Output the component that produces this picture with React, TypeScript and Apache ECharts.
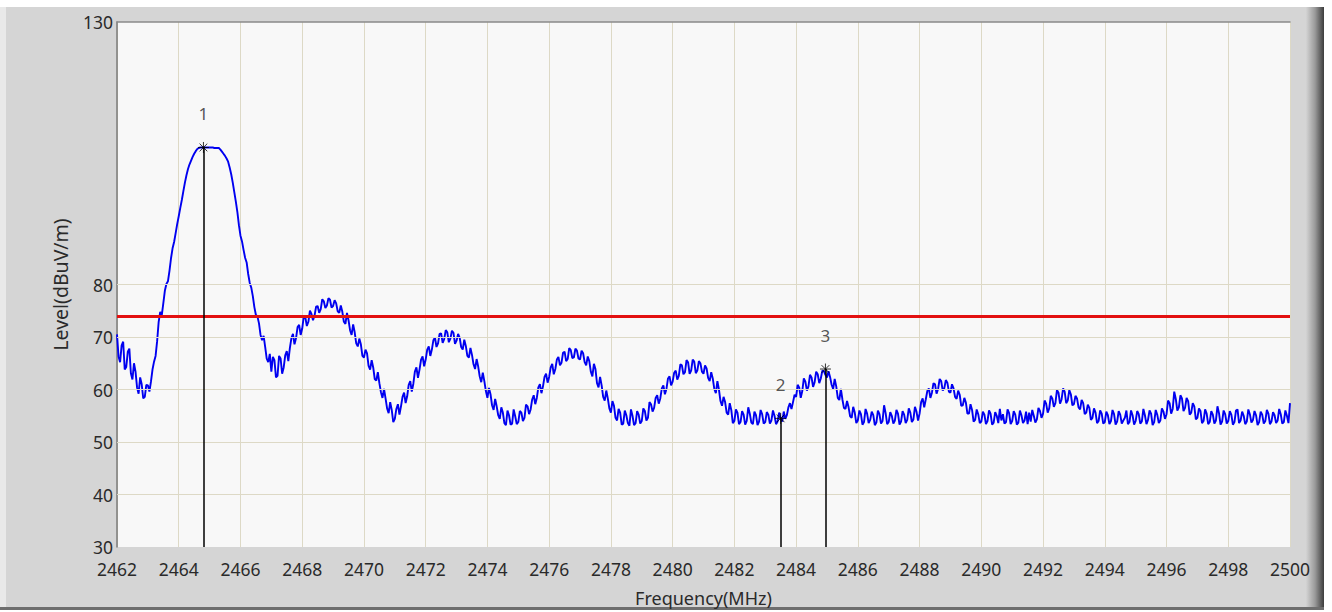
import React, { useEffect, useRef } from "react";
import * as echarts from "echarts";

// Sampling grid of the analyser trace (MHz)
const freqStart = 2462;
const freqStep = 0.1;

// Trace level (dBuV/m) at 2462.0, 2462.1, ... 2500.0
const level = [
  70.5, 65.2, 69.1, 64.3, 67.8, 61.9, 63.4, 59.2, 61.0, 58.6,
  60.8, 61.5, 65.3, 69.2, 74.8, 76.4, 80.1, 82.6, 86.9, 89.8,
  93.0, 96.1, 99.4, 102.0, 103.6, 104.9, 105.8, 106.1, 106.1, 106.1,
  106.1, 106.1, 106.0, 106.0, 105.3, 104.5, 103.4, 101.0, 97.6, 93.8,
  89.3, 86.6, 84.2, 80.3, 77.8, 74.2, 72.6, 69.4, 68.1, 65.2,
  63.4, 65.6, 62.6, 65.9, 64.2, 67.3, 67.9, 70.6, 69.8, 72.3,
  71.6, 73.8, 72.9, 74.4, 74.1, 75.9, 75.3, 76.8, 76.0, 77.1,
  75.9, 76.4, 74.6, 74.8, 72.5, 73.2, 70.4, 70.9, 68.2, 68.6,
  66.1, 66.9, 63.8, 64.2, 61.7, 61.2, 58.4, 58.3, 55.5, 56.1,
  54.4, 57.2, 56.8, 59.4, 58.7, 61.6, 61.1, 64.2, 63.8, 66.3,
  65.7, 68.2, 67.6, 69.9, 68.8, 70.7, 69.6, 70.9, 69.7, 70.8,
  69.3, 69.9, 67.6, 68.3, 66.1, 66.6, 63.9, 64.4, 61.4, 61.6,
  58.4, 59.1, 56.1, 56.8, 54.4, 55.6, 53.2, 55.1, 53.5, 54.9,
  53.8, 55.6, 54.6, 56.8, 56.2, 58.9, 58.4, 61.0, 60.6, 63.0,
  62.4, 64.9, 63.9, 66.2, 65.1, 67.2, 65.8, 67.5, 66.1, 67.4,
  65.7, 66.9, 64.6, 65.4, 62.5, 63.9, 60.4, 60.8, 57.9, 58.3,
  55.6, 56.9, 54.1, 55.6, 53.5, 55.1, 53.1, 55.0, 53.6, 55.2,
  54.0, 55.9, 54.6, 57.2, 56.5, 58.9, 58.3, 60.8, 60.1, 62.5,
  61.5, 63.6, 62.6, 64.6, 63.3, 65.2, 63.6, 65.3, 63.6, 65.0,
  63.0, 64.0, 61.6, 62.1, 59.3, 60.0, 56.9, 57.6, 55.2, 56.1,
  54.0, 55.6, 53.8, 55.2, 54.0, 55.4, 53.4, 55.1, 53.9, 55.3,
  53.8, 55.2, 54.1, 55.0, 53.9, 54.5, 55.8, 55.1, 57.4, 57.6,
  58.6, 60.4, 59.7, 61.5, 60.6, 62.3, 61.4, 62.9, 62.1, 63.5,
  62.3, 62.4, 60.1, 60.6, 58.0, 58.1, 56.3, 56.6, 54.6, 55.6,
  54.1, 55.3, 53.8, 55.4, 54.2, 55.1, 53.7, 55.3, 54.0, 55.5,
  53.8, 55.0, 54.1, 55.4, 53.9, 55.2, 54.2, 55.6, 54.3, 55.8,
  55.4, 58.3, 58.1, 60.2, 59.4, 61.0, 60.1, 61.6, 60.2, 61.3,
  59.4, 60.2, 58.2, 59.0, 57.0, 57.5, 55.4, 56.1, 54.2, 55.3,
  53.9, 55.2, 54.0, 55.4, 53.7, 55.0, 56.3, 55.3, 53.8, 55.5,
  54.0, 55.2, 53.7, 55.1, 54.1, 53.4, 53.9, 55.0, 54.3, 55.9,
  55.4, 57.3, 56.4, 58.3, 57.4, 59.4, 58.1, 59.6, 57.9, 59.1,
  57.2, 58.3, 56.2, 57.4, 55.6, 56.5, 54.6, 55.6, 54.0, 55.4,
  53.8, 55.1, 54.0, 55.3, 53.9, 55.2, 54.1, 56.0, 53.8, 55.1,
  54.0, 55.3, 53.9, 55.1, 54.2, 55.4, 53.8, 55.2, 54.1, 55.8,
  55.3, 57.4, 56.3, 58.2, 56.6, 58.3, 56.5, 57.8, 55.6, 56.8,
  54.6, 55.9, 54.0, 55.4, 53.8, 55.2, 54.1, 55.5, 53.9, 55.3,
  54.0, 55.2, 53.8, 56.2, 54.1, 55.0, 53.9, 55.3, 54.2, 55.1,
  53.8, 55.2, 54.0, 55.4, 53.9, 55.1, 54.1, 55.3, 53.8, 55.0,
  57.4,
];

// Trace level (dBuV/m) at the in-between samples 2462.05, 2462.15, ... 2499.95
const levelMid = [
  66.3, 68.4, 63.8, 67.2, 63.1, 65.0, 60.4, 62.3, 58.3, 60.9,
  59.6, 63.8, 66.4, 72.9, 74.1, 78.8, 80.6, 85.0, 88.1, 91.5,
  94.6, 97.8, 100.8, 102.9, 104.3, 105.4, 106.0, 106.1, 106.1, 106.1,
  106.1, 106.0, 106.0, 105.7, 104.9, 104.0, 102.3, 99.4, 95.8, 91.3,
  88.2, 85.1, 82.0, 79.4, 75.7, 73.9, 70.4, 70.2, 65.9, 66.8,
  66.2, 62.3, 66.4, 63.0, 66.5, 65.4, 69.8, 68.6, 71.9, 70.4,
  73.9, 72.1, 75.0, 73.2, 75.8, 74.6, 77.2, 75.5, 77.4, 75.6,
  77.0, 74.9, 76.0, 72.9, 74.6, 71.3, 72.4, 68.8, 69.7, 66.4,
  67.6, 64.5, 65.6, 62.0, 63.3, 59.5, 60.1, 56.4, 57.6, 53.8,
  56.3, 55.2, 58.6, 57.4, 60.9, 59.6, 63.4, 62.2, 65.7, 64.4,
  67.6, 66.4, 69.4, 68.1, 70.6, 68.9, 71.3, 69.0, 71.2, 68.7,
  70.6, 68.1, 69.5, 66.4, 67.9, 64.8, 65.8, 62.5, 63.2, 59.7,
  60.3, 57.0, 58.2, 55.1, 56.6, 53.6, 56.0, 53.3, 56.2, 53.4,
  55.9, 54.0, 57.1, 55.3, 58.1, 57.2, 60.4, 59.3, 62.4, 61.3,
  64.2, 62.9, 65.7, 64.6, 67.0, 65.4, 67.9, 66.0, 67.8, 65.9,
  67.4, 65.2, 66.3, 63.4, 64.9, 61.2, 62.4, 58.6, 59.8, 56.4,
  57.8, 54.6, 56.3, 53.3, 56.0, 53.6, 56.2, 53.2, 55.9, 53.5,
  56.4, 54.1, 57.6, 55.8, 58.4, 57.3, 60.2, 59.1, 62.1, 60.8,
  63.2, 61.9, 64.8, 62.9, 65.6, 63.0, 65.7, 63.1, 65.4, 63.4,
  64.6, 62.2, 63.3, 60.1, 61.6, 57.8, 58.6, 55.6, 57.4, 53.6,
  56.2, 53.4, 55.9, 53.3, 56.6, 53.7, 55.8, 53.2, 56.1, 53.5,
  55.7, 53.5, 56.0, 53.4, 55.6, 53.9, 54.4, 56.6, 56.3, 59.0,
  60.9, 58.4, 62.1, 59.8, 62.8, 60.5, 63.4, 61.2, 63.6, 62.8,
  63.5, 60.9, 62.0, 58.4, 60.1, 56.5, 57.8, 54.9, 56.7, 53.6,
  56.0, 53.3, 56.3, 53.6, 55.8, 53.2, 56.0, 53.5, 57.0, 53.4,
  55.7, 53.5, 56.1, 53.3, 55.9, 53.6, 56.4, 53.8, 56.7, 54.1,
  57.6, 56.6, 59.7, 58.4, 61.2, 59.2, 62.0, 59.8, 61.8, 59.6,
  61.0, 58.6, 59.8, 56.9, 58.4, 55.4, 57.2, 53.9, 56.2, 53.6,
  55.8, 53.4, 56.0, 53.3, 55.7, 53.6, 54.1, 53.5, 56.2, 53.4,
  55.9, 53.3, 56.0, 53.6, 55.8, 55.6, 56.1, 53.7, 56.5, 54.6,
  57.9, 55.6, 58.8, 56.7, 59.9, 57.3, 60.2, 57.4, 59.9, 57.0,
  58.8, 56.6, 58.0, 55.3, 57.1, 54.2, 56.4, 53.6, 56.0, 53.5,
  55.8, 53.4, 56.1, 53.3, 55.9, 53.5, 54.6, 53.4, 56.0, 53.3,
  55.9, 53.5, 56.3, 53.4, 56.0, 53.2, 56.1, 53.6, 56.4, 54.4,
  57.9, 55.4, 59.6, 56.0, 58.9, 55.9, 58.4, 55.2, 57.4, 54.3,
  56.4, 53.6, 56.2, 53.4, 55.9, 53.5, 56.8, 53.3, 56.0, 53.5,
  55.9, 53.3, 56.0, 53.6, 55.8, 53.4, 56.2, 53.7, 55.9, 53.2,
  55.8, 53.5, 56.1, 53.4, 55.7, 53.6, 56.3, 53.5, 56.0, 53.6,
];

// Axes
const xMin = 2462;
const xMax = 2500;
const xInterval = 2;
const yMin = 30;
const yMax = 130;
const yInterval = 10;
const yLabelValues = [30, 40, 50, 60, 70, 80, 130];
const hGridValues = [40, 50, 60, 70, 80];

// Limit line
const limitLevel = 74;

// Markers
const markerFreq = [2464.8, 2483.5, 2484.95];
const markerLevel = [106.1, 54.5, 63.9];
const markerName = ["1", "2", "3"];

const FONT = "'Noto Sans', 'Open Sans', sans-serif";

export default function App() {
  const ref = useRef<HTMLDivElement>(null);
  useEffect(() => {
    document.body.style.margin = "0";
    const chart = echarts.init(ref.current!, null, { renderer: "svg" });
    const traceData: number[][] = [];
    level.forEach((v, i) => {
      traceData.push([+(freqStart + i * freqStep).toFixed(2), v]);
      if (i < levelMid.length) {
        traceData.push([
          +(freqStart + (i + 0.5) * freqStep).toFixed(3),
          levelMid[i],
        ]);
      }
    });
    const markerPoints = markerFreq.map((f, i) => ({
      value: [f, markerLevel[i]],
      name: markerName[i],
    }));
    const option: any = {
      animation: false,
      backgroundColor: "transparent",
      textStyle: { fontFamily: FONT },
      graphic: [
        {
          type: "rect",
          silent: true,
          z: -1,
          shape: { x: 0, y: 0, width: 1332, height: 7 },
          style: { fill: "#ffffff" },
        },
        {
          type: "rect",
          silent: true,
          z: -1,
          shape: { x: 0, y: 7, width: 6, height: 600 },
          style: { fill: "#e9e9e9" },
        },
        {
          type: "rect",
          silent: true,
          z: -1,
          shape: { x: 1306, y: 7, width: 18, height: 600 },
          style: {
            fill: new echarts.graphic.LinearGradient(0, 0, 1, 0, [
              { offset: 0, color: "#d4d4d4" },
              { offset: 0.5, color: "#9a9a9a" },
              { offset: 1, color: "#3c3c3c" },
            ]),
          },
        },
        {
          type: "rect",
          silent: true,
          z: -1,
          shape: { x: 1324, y: 0, width: 8, height: 612 },
          style: { fill: "#ffffff" },
        },
        {
          type: "rect",
          silent: true,
          z: -1,
          shape: { x: 0, y: 607, width: 1324, height: 3 },
          style: { fill: "#6e6e6e" },
        },
        {
          type: "rect",
          silent: true,
          z: -1,
          shape: { x: 0, y: 610, width: 1332, height: 2 },
          style: { fill: "#ffffff" },
        },
      ],
      grid: {
        left: 117,
        top: 22,
        right: 42,
        bottom: 65,
        show: true,
        backgroundColor: "#f8f8f8",
        borderWidth: 0,
      },
      xAxis: [
        {
          type: "value",
          min: xMin,
          max: xMax,
          interval: xInterval,
          name: "Frequency(MHz)",
          nameLocation: "middle",
          nameGap: 42,
          nameTextStyle: { fontSize: 18, color: "#2a2a2a", fontFamily: FONT },
          axisLine: { show: false },
          axisTick: { show: false },
          axisLabel: {
            fontSize: 17.5,
            color: "#2a2a2a",
            margin: 13,
            fontFamily: FONT,
            formatter: (v: number) => String(v),
          },
          splitLine: { show: true, lineStyle: { color: "#ddd9c6", width: 1 } },
        },
        {
          type: "value",
          position: "top",
          min: xMin,
          max: xMax,
          axisLine: { show: true, lineStyle: { color: "#8a8a8a", width: 1.5 } },
          axisTick: { show: false },
          axisLabel: { show: false },
          splitLine: { show: false },
        },
      ],
      yAxis: {
        type: "value",
        min: yMin,
        max: yMax,
        interval: yInterval,
        name: "Level(dBuV/m)",
        nameLocation: "middle",
        nameGap: 47,
        nameTextStyle: { fontSize: 19.5, color: "#2a2a2a", fontFamily: FONT },
        axisLine: { show: true, lineStyle: { color: "#7a7a7a", width: 1.5 } },
        axisTick: { show: false },
        axisLabel: {
          fontSize: 17.5,
          color: "#2a2a2a",
          margin: 4,
          fontFamily: FONT,
          formatter: (v: number) => (yLabelValues.includes(v) ? String(v) : ""),
        },
        splitLine: { show: false },
      },
      series: [
        {
          type: "line",
          name: "grid",
          data: [],
          z: 1,
          silent: true,
          markLine: {
            silent: true,
            symbol: ["none", "none"],
            label: { show: false },
            lineStyle: { color: "#ddd9c6", width: 1, type: "solid" },
            data: hGridValues.map((v) => ({ yAxis: v })),
          },
        },
        {
          type: "line",
          name: "trace",
          data: traceData,
          z: 2,
          showSymbol: false,
          symbol: "none",
          silent: true,
          lineStyle: { color: "#0000f0", width: 1.9 },
          markLine: {
            silent: true,
            symbol: ["none", "none"],
            label: { show: false },
            data: [
              {
                yAxis: limitLevel,
                lineStyle: { color: "#e31010", width: 3, type: "solid" },
              },
              ...markerFreq.map((f, i) => [
                {
                  coord: [f, markerLevel[i]],
                  lineStyle: { color: "#000000", width: 1.5, type: "solid" },
                },
                { coord: [f, yMin] },
              ]),
            ],
          },
        },
        {
          type: "scatter",
          name: "markers",
          z: 5,
          silent: true,
          data: markerPoints,
          symbol:
            "path://M5,0L5,10M0,5L10,5M1.5,1.5L8.5,8.5M1.5,8.5L8.5,1.5",
          symbolSize: 11,
          itemStyle: {
            color: "rgba(0,0,0,0)",
            borderColor: "#000000",
            borderWidth: 1,
          },
          label: {
            show: true,
            position: "top",
            distance: 19,
            formatter: (p: any) => p.name,
            fontSize: 17,
            color: "#2a2a2a",
            fontFamily: FONT,
          },
        },
      ],
    };
    chart.setOption(option);
    return () => chart.dispose();
  }, []);
  return (
    <div
      ref={ref}
      style={{ width: 1332, height: 612, background: "#d5d5d5" }}
    />
  );
}
